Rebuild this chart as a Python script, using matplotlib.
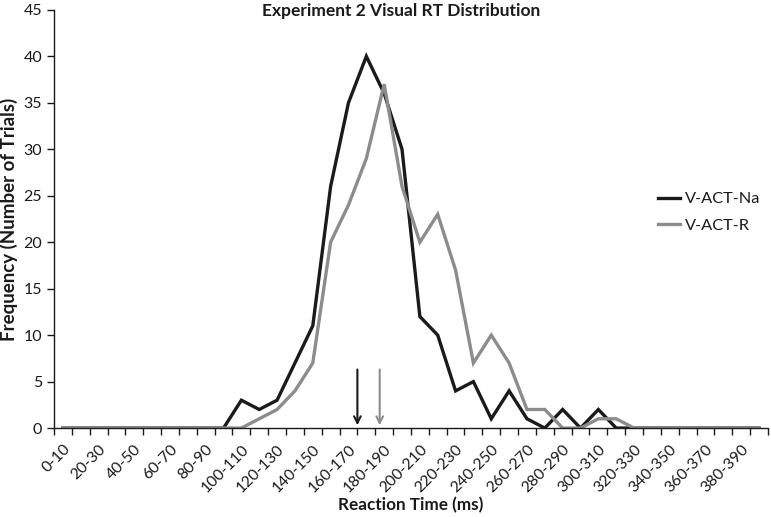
import matplotlib
matplotlib.use("Agg")
import matplotlib.pyplot as plt
import numpy as np

plt.rcParams['font.family'] = ['Lato', 'DejaVu Sans']

categories = [f"{a}-{a+10}" for a in range(0, 400, 10)]
v_act_na = [0, 0, 0, 0, 0, 0, 0, 0, 0, 0,
            3, 2, 3, 7, 11, 26, 35, 40, 36, 30,
            12, 10, 4, 5, 1, 4, 1, 0, 2, 0,
            2, 0, 0, 0, 0, 0, 0, 0, 0, 0]
v_act_r = [0, 0, 0, 0, 0, 0, 0, 0, 0, 0,
           0, 1, 2, 4, 7, 20, 24, 29, 37, 26,
           20, 23, 17, 7, 10, 7, 2, 2, 0, 0,
           1, 1, 0, 0, 0, 0, 0, 0, 0, 0]
# mean RT markers (position in category units) and arrow height
mean_na = 16.5
mean_r = 17.75
arrow_top = 6.3

fig = plt.figure(figsize=(7.71, 5.17), dpi=100)
ax = fig.add_axes([0.070, 0.172, 0.926, 0.809])

x = np.arange(len(categories))
ax.plot(x, v_act_na, color='#1a1a1a', lw=2.4, label='V-ACT-Na', solid_joinstyle='miter')
ax.plot(x, v_act_r, color='#8c8c8c', lw=2.4, label='V-ACT-R', solid_joinstyle='miter')

ax.annotate('', xy=(mean_na, 0.3), xytext=(mean_na, arrow_top),
            arrowprops=dict(arrowstyle='->', color='#1a1a1a', lw=1.5,
                            mutation_scale=12, shrinkA=0, shrinkB=0))
ax.annotate('', xy=(mean_r, 0.3), xytext=(mean_r, arrow_top),
            arrowprops=dict(arrowstyle='->', color='#8c8c8c', lw=1.5,
                            mutation_scale=12, shrinkA=0, shrinkB=0))

ax.set_xlim(-0.5, len(categories) - 0.5)
ax.set_ylim(0, 45)
ax.set_yticks(np.arange(0, 46, 5))

ax.set_xticks(x[::2])
ax.set_xticklabels(categories[::2], rotation=45, ha='right', rotation_mode='anchor',
                   fontsize=11.3, color='#1a1a1a')
ax.set_xticks(np.arange(-0.5, len(categories), 1), minor=True)
ax.tick_params(axis='x', which='major', length=0, pad=10)
ax.tick_params(axis='x', which='minor', length=5, width=1, direction='out', color='#1a1a1a')
ax.tick_params(axis='y', length=5, width=1, direction='out', labelsize=11.5,
               labelcolor='#1a1a1a', color='#1a1a1a')

for s in ['top', 'right']:
    ax.spines[s].set_visible(False)
for s in ['left', 'bottom']:
    ax.spines[s].set_color('#1a1a1a')
    ax.spines[s].set_linewidth(1)

fig.text(401 / 771, 1 - 11 / 517, 'Experiment 2 Visual RT Distribution', fontsize=12.5,
         fontweight='bold', color='#1a1a1a', ha='center', va='center')
fig.text(411 / 771, 1 - 505 / 517, 'Reaction Time (ms)', fontsize=12.3, fontweight='bold',
         color='#1a1a1a', ha='center', va='center')
ax.set_ylabel('Frequency (Number of Trials)', fontsize=13.5, fontweight='bold', color='#1a1a1a',
              labelpad=4)

leg = ax.legend(loc='upper left', bbox_to_anchor=(0.826, 0.60), frameon=False, fontsize=11.8,
                handlelength=1.3, handletextpad=0.3, labelspacing=0.75)
for t in leg.get_texts():
    t.set_color('#1a1a1a')

fig.savefig('out.png', dpi=100)
